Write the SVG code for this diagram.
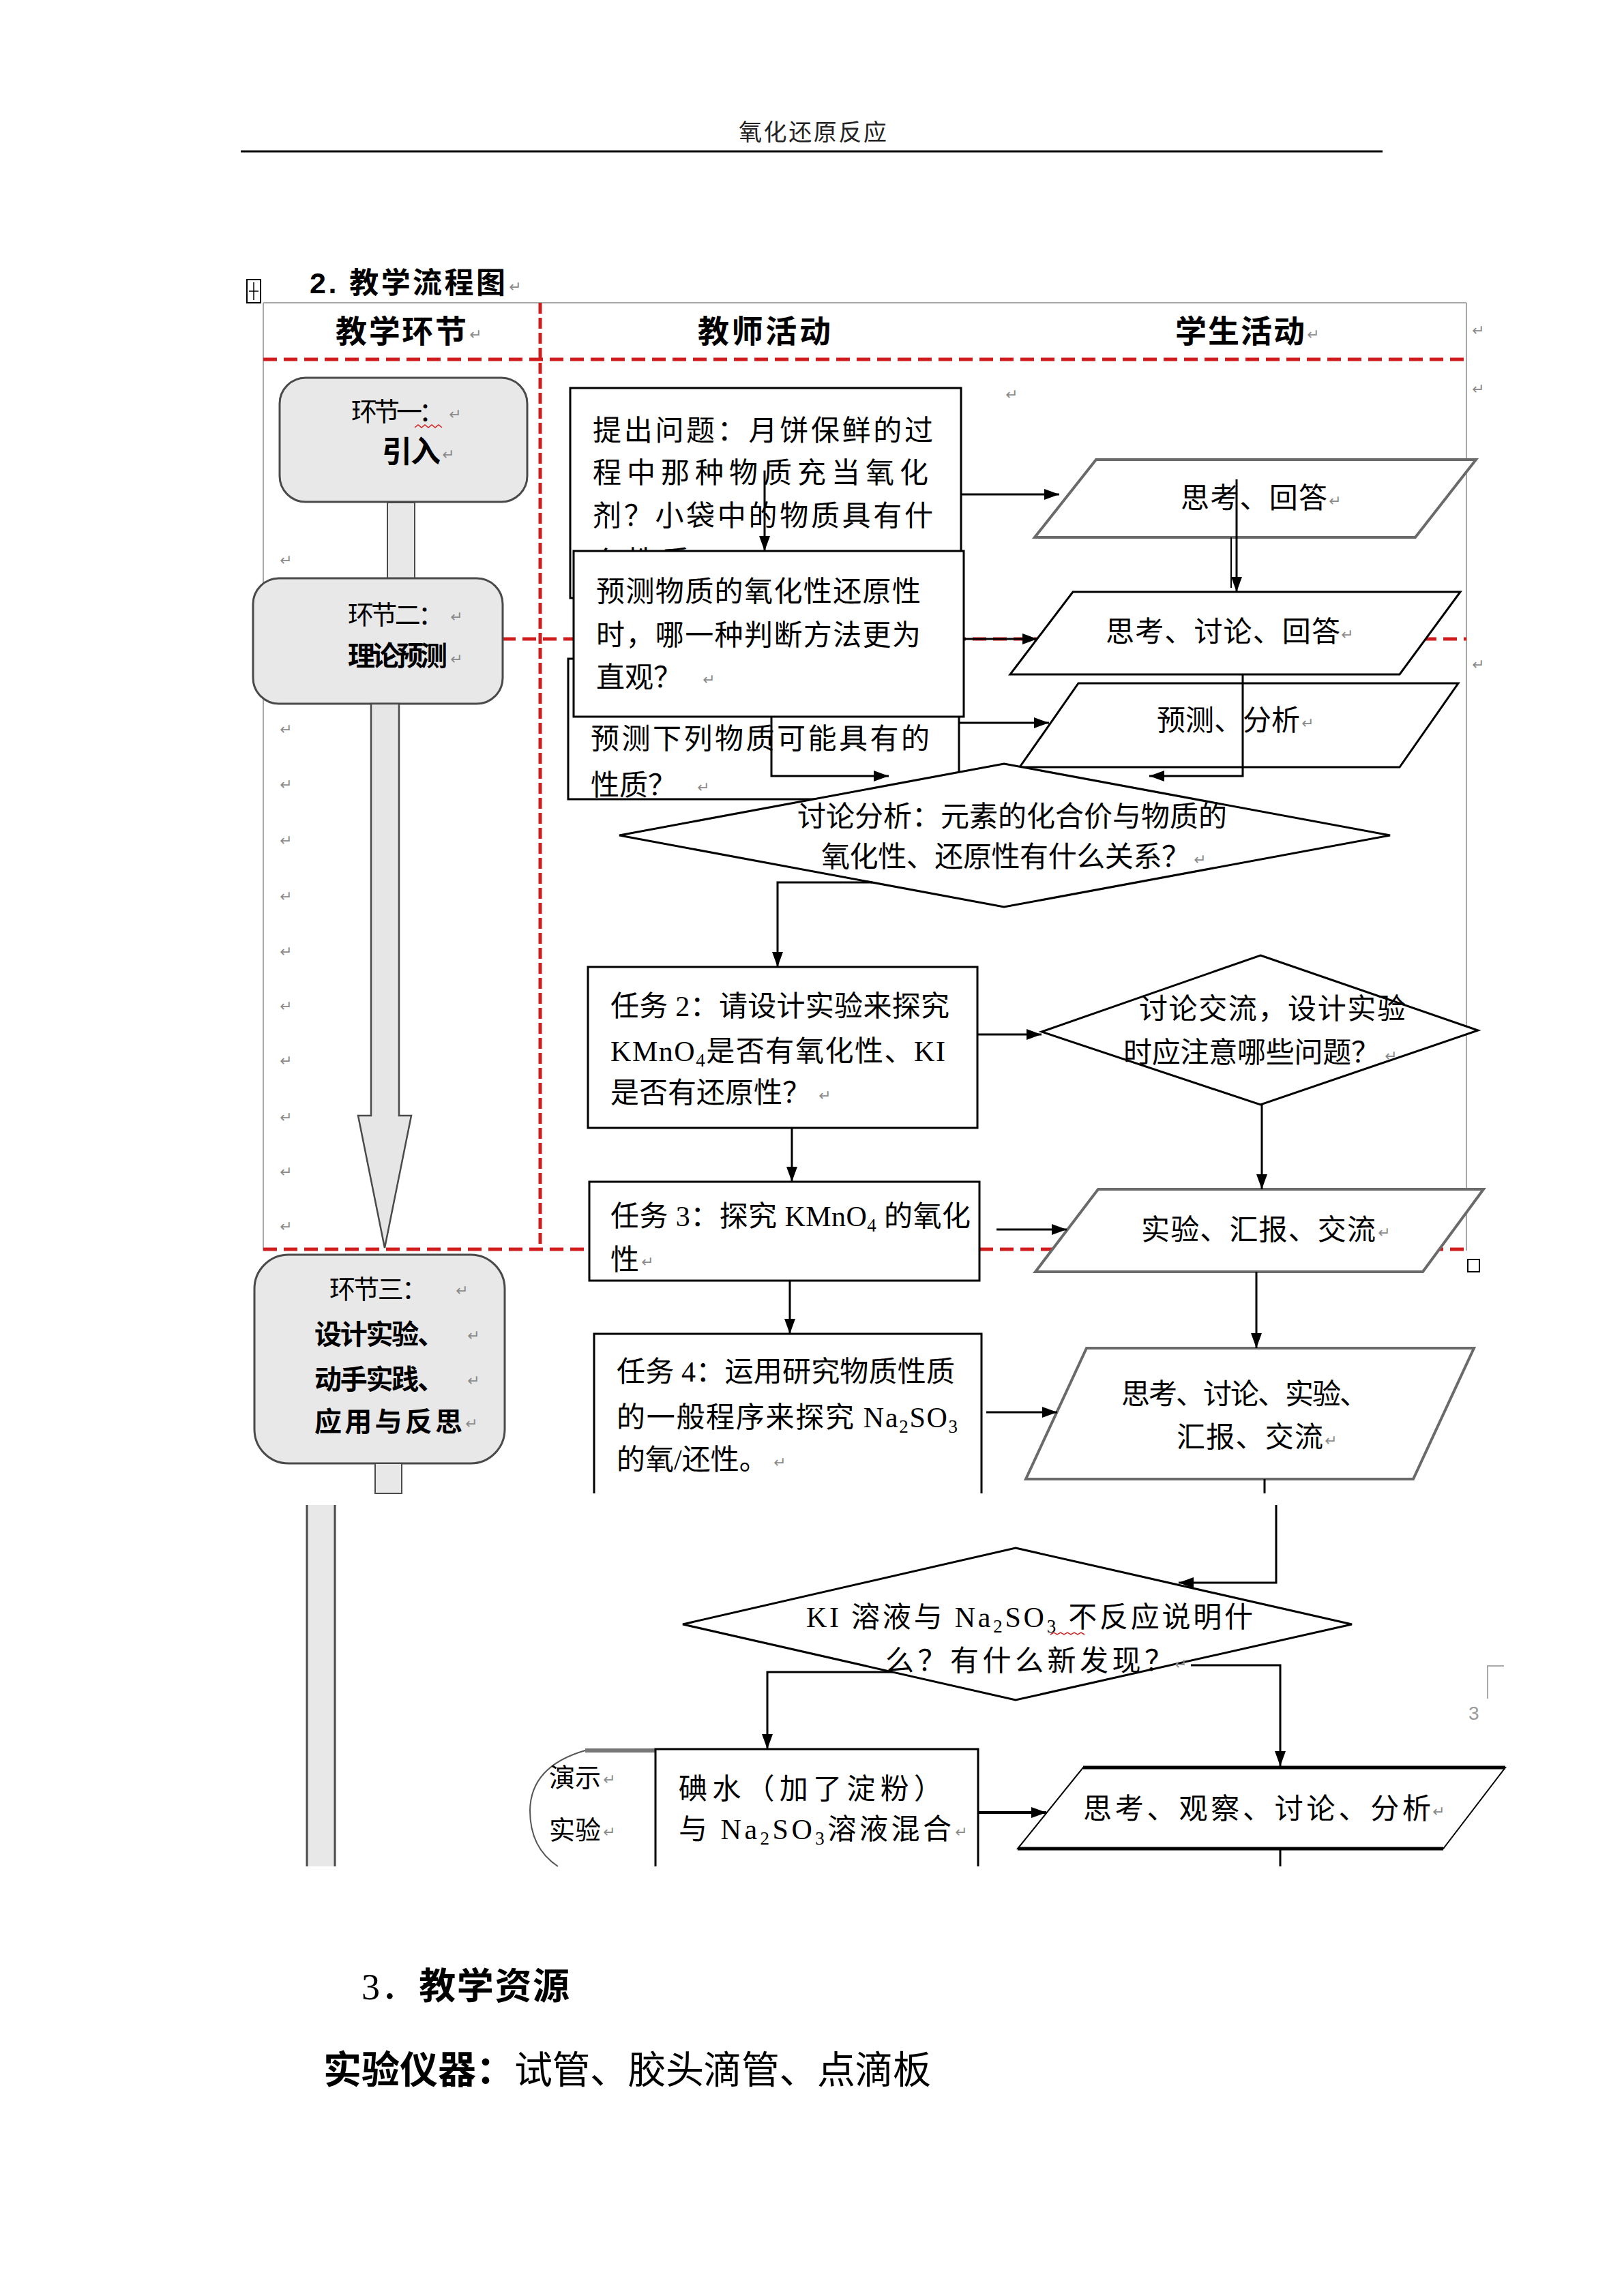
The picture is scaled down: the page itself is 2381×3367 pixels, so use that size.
<svg xmlns="http://www.w3.org/2000/svg" width="2381" height="3367" viewBox="0 0 2381 3367">
<style>
.t{font-family:"Liberation Serif","Noto Sans CJK SC",serif;font-size:42px;fill:#000}
.s{font-size:38px}
.b{font-family:"Liberation Sans","Noto Sans CJK SC",sans-serif;font-weight:bold}
.pm{font-family:"DejaVu Sans",sans-serif;font-size:22px;fill:#8a8a8a}
.box{fill:#fff;stroke:#000;stroke-width:3}
.gbox{fill:#e8e8e8;stroke:#4a4a4a;stroke-width:3}
.para{fill:#fff;stroke:#000;stroke-width:3}
.parag{fill:#fff;stroke:#6a6a6a;stroke-width:4}
.dia{fill:#fff;stroke:#000;stroke-width:3}
.red{stroke:#d01c1c;stroke-width:5;fill:none}
.grid{stroke:#a8a8a8;stroke-width:2;fill:none}
.con{stroke:#000;stroke-width:3;fill:none}
.arr{marker-end:url(#ah)}
</style>
<defs>
<marker id="ah" markerWidth="22" markerHeight="16" refX="22" refY="8" orient="auto" markerUnits="userSpaceOnUse"><path d="M0,0 L22,8 L0,16 Z" fill="#000"/></marker>
</defs>
<rect width="2381" height="3367" fill="#fff"/>

<g id="page">
<text class="t" x="1083" y="206" style="font-size:34px;fill:#222" textLength="217">氧化还原反应</text>
<line x1="353" y1="222" x2="2027" y2="222" stroke="#000" stroke-width="3"/>
<rect x="362" y="410" width="20" height="34" fill="none" stroke="#000" stroke-width="2"/>
<path d="M372 414 V440 M365 427 H379" stroke="#000" stroke-width="1.5"/>
<text class="t b" x="454" y="430" style="font-size:43px" textLength="287">2. 教学流程图</text>
<text class="pm" x="746" y="428">↵</text>
</g>

<g id="table">
<line class="grid" x1="386" y1="444" x2="2150" y2="444"/>
<line class="grid" x1="386" y1="444" x2="386" y2="1834"/>
<line class="grid" x1="2150" y1="444" x2="2150" y2="1834"/>
<line class="red" x1="792" y1="444" x2="792" y2="1831" stroke-dasharray="16 6"/>
<line class="red" x1="386" y1="527" x2="2150" y2="527" stroke-dasharray="20 10"/>
<line class="red" x1="736" y1="937" x2="2150" y2="937" stroke-dasharray="20 10"/>
<line class="red" x1="386" y1="1832" x2="2150" y2="1832" stroke-dasharray="20 10"/>
<rect x="2152" y="1847" width="17" height="18" fill="none" stroke="#000" stroke-width="2"/>
<text class="t b" x="492" y="502" style="font-size:46px" textLength="192">教学环节</text>
<text class="pm" x="688" y="498">↵</text>
<text class="t b" x="1023" y="502" style="font-size:46px" textLength="195">教师活动</text>
<text class="t b" x="1723" y="502" style="font-size:46px" textLength="190">学生活动</text>
<text class="pm" x="1916" y="498">↵</text>
<text class="pm" x="2158" y="492">↵</text>
<text class="pm" x="2158" y="578">↵</text>
<text class="pm" x="2158" y="982">↵</text>
<text class="pm" x="1474" y="586">↵</text>
<text class="pm" x="410" y="829">↵</text>
<text class="pm" x="410" y="1077">↵</text>
<text class="pm" x="410" y="1158">↵</text>
<text class="pm" x="410" y="1240">↵</text>
<text class="pm" x="410" y="1322">↵</text>
<text class="pm" x="410" y="1403">↵</text>
<text class="pm" x="410" y="1483">↵</text>
<text class="pm" x="410" y="1563">↵</text>
<text class="pm" x="410" y="1646">↵</text>
<text class="pm" x="410" y="1726">↵</text>
<text class="pm" x="410" y="1806">↵</text>
</g>

<g id="stage1">
<rect class="gbox" x="410" y="554" width="363" height="182" rx="38"/>
<text class="t s" x="515" y="617" textLength="137">环节一：</text>
<text class="pm" x="658" y="615">↵</text>
<path d="M608 627 l5 -4 l5 4 l5 -4 l5 4 l5 -4 l5 4 l5 -4 l5 4" stroke="#d02020" stroke-width="1.5" fill="none"/>
<text class="t b" x="560" y="678" style="font-size:44px" textLength="86">引入</text>
<text class="pm" x="648" y="674">↵</text>
<rect class="gbox" x="568" y="737" width="40" height="111" style="stroke-width:2"/>
</g>

<g id="stage2">
<rect class="gbox" x="371" y="848" width="366" height="184" rx="38"/>
<text class="t s" x="510" y="915" textLength="141">环节二：</text>
<text class="pm" x="660" y="912">↵</text>
<text class="t b" x="510" y="976" style="font-size:40px" textLength="146">理论预测</text>
<text class="pm" x="660" y="974">↵</text>
<polygon points="544,1032 585,1032 585,1636 603,1636 564,1830 525,1636 544,1636" fill="#e6e6e6" stroke="#4a4a4a" stroke-width="2.5"/>
</g>

<g id="stage3">
<rect class="gbox" x="373" y="1840" width="367" height="306" rx="50"/>
<text class="t s" x="483" y="1904" textLength="144">环节三：</text>
<text class="pm" x="668" y="1900">↵</text>
<text class="t b" x="461" y="1971" style="font-size:40px" textLength="191">设计实验、</text>
<text class="pm" x="685" y="1966">↵</text>
<text class="t b" x="461" y="2037" style="font-size:40px" textLength="191">动手实践、</text>
<text class="pm" x="685" y="2032">↵</text>
<text class="t b" x="461" y="2099" style="font-size:40px" textLength="217">应用与反思</text>
<text class="pm" x="682" y="2095">↵</text>
<rect class="gbox" x="550" y="2146" width="39" height="44" style="stroke-width:2"/>
<rect x="449" y="2207" width="43" height="530" fill="#e8e8e8"/>
<path d="M450 2207 V2737 M491 2207 V2737" stroke="#4a4a4a" stroke-width="3"/>
</g>

<g id="taskA">
<rect class="box" x="836" y="569" width="573" height="308"/>
<text class="t" x="869" y="646" textLength="499">提出问题：月饼保鲜的过</text>
<text class="t" x="869" y="708" textLength="492">程中那种物质充当氧化</text>
<text class="t" x="869" y="771" textLength="499">剂？小袋中的物质具有什</text>
<text class="t" x="869" y="838" textLength="142">么性质</text>
</g>

<g id="taskC">
<rect class="box" x="833" y="966" width="573" height="206"/>
<text class="t" x="866" y="1098" textLength="497">预测下列物质可能具有的</text>
<text class="t" x="866" y="1166">性质？</text>
<text class="pm" x="1022" y="1162">↵</text>
</g>

<g id="taskB">
<rect class="box" x="841" y="808" width="572" height="243"/>
<text class="t" x="874" y="882" textLength="476">预测物质的氧化性还原性</text>
<text class="t" x="874" y="946" textLength="476">时，哪一种判断方法更为</text>
<text class="t" x="874" y="1008">直观？</text>
<text class="pm" x="1030" y="1004">↵</text>
</g>

<g id="stuP1">
<polygon class="parag" points="1607,674 2164,674 2075,788 1517,788"/>
<text class="t" x="1731" y="745" textLength="215">思考、回答</text>
<text class="pm" x="1948" y="742">↵</text>
</g>
<g id="stuP2">
<polygon class="para" points="1573,868 2141,868 2052,989 1481,989"/>
<text class="t" x="1621" y="941" textLength="344">思考、讨论、回答</text>
<text class="pm" x="1966" y="938">↵</text>
</g>
<g id="stuP3">
<polygon class="para" points="1581,1002 2138,1002 2052,1125 1495,1125"/>
<text class="t" x="1696" y="1071" textLength="210">预测、分析</text>
<text class="pm" x="1908" y="1068">↵</text>
</g>

<g id="discuss1">
<polygon class="dia" points="1472,1120 2038,1225 1472,1330 908,1225"/>
<text class="t" x="1169" y="1212" textLength="630">讨论分析：元素的化合价与物质的</text>
<text class="t" x="1204" y="1271" textLength="541">氧化性、还原性有什么关系？</text>
<text class="pm" x="1750" y="1268">↵</text>
</g>

<g id="task2">
<rect class="box" x="862" y="1418" width="571" height="236"/>
<text class="t" x="895" y="1490" textLength="497">任务 2：请设计实验来探究</text>
<text class="t" x="895" y="1556" textLength="491">KMnO<tspan font-size="27" dy="8">4</tspan><tspan dy="-8">是否有氧化性、KI</tspan></text>
<text class="t" x="895" y="1617">是否有还原性？</text>
<text class="pm" x="1200" y="1614">↵</text>
</g>

<g id="discuss2">
<polygon class="dia" points="1848,1401 2167,1511 1848,1620 1527,1513"/>
<text class="t" x="1670" y="1494" textLength="391">讨论交流，设计实验</text>
<text class="t" x="1647" y="1558" textLength="376">时应注意哪些问题？</text>
<text class="pm" x="2030" y="1556">↵</text>
</g>

<g id="task3">
<rect class="box" x="864" y="1733" width="572" height="145"/>
<text class="t" x="895" y="1798" textLength="528">任务 3：探究 KMnO<tspan font-size="27" dy="8">4</tspan><tspan dy="-8"> 的氧化</tspan></text>
<text class="t" x="895" y="1862">性</text>
<text class="pm" x="940" y="1858">↵</text>
</g>

<g id="stuP4">
<polygon class="parag" points="1610,1744 2175,1744 2086,1865 1518,1865"/>
<text class="t" x="1673" y="1818" textLength="344">实验、汇报、交流</text>
<text class="pm" x="2020" y="1815">↵</text>
</g>

<g id="task4">
<path class="box" d="M871 2190 V1956 H1439 V2190"/>
<text class="t" x="904" y="2026" textLength="496">任务 4：运用研究物质性质</text>
<text class="t" x="904" y="2093" textLength="500">的一般程序来探究 Na<tspan font-size="27" dy="8">2</tspan><tspan dy="-8">SO</tspan><tspan font-size="27" dy="8">3</tspan></text>
<text class="t" x="904" y="2155">的氧/还性。</text>
<text class="pm" x="1134" y="2152">↵</text>
</g>

<g id="stuP5">
<polygon class="parag" points="1593,1977 2161,1977 2072,2169 1504,2169"/>
<text class="t" x="1644" y="2059" textLength="362">思考、讨论、实验、</text>
<text class="t" x="1725" y="2122" textLength="215">汇报、交流</text>
<text class="pm" x="1942" y="2120">↵</text>
</g>

<g id="question3">
<polygon class="dia" points="1489,2270 1982,2382 1489,2493 1001,2382"/>
<text class="t" x="1182" y="2386" textLength="655">KI 溶液与 Na<tspan font-size="27" dy="8">2</tspan><tspan dy="-8">SO</tspan><tspan font-size="27" dy="8">3</tspan><tspan dy="-8"> 不反应说明什</tspan></text>
<path d="M1540 2397 l5 -3 l5 3 l5 -3 l5 3 l5 -3 l5 3 l5 -3 l5 3 l5 -3 l5 3" stroke="#d02020" stroke-width="1.5" fill="none"/>
<text class="t" x="1298" y="2450" textLength="422">么？有什么新发现？</text>
<text class="pm" x="1722" y="2448">↵</text>
</g>

<g id="demo">
<path d="M961 2567 L858 2567 Q778 2590 777 2655 Q777 2710 818 2737" fill="none" stroke="#555" stroke-width="2"/>
<line x1="858" y1="2567" x2="961" y2="2567" stroke="#777" stroke-width="6"/>
<text class="t s" x="805" y="2620">演示</text>
<text class="pm" x="884" y="2617">↵</text>
<text class="t s" x="805" y="2697">实验</text>
<text class="pm" x="884" y="2694">↵</text>
</g>

<g id="mixE">
<path class="box" d="M961 2737 V2565 H1434 V2737"/>
<text class="t" x="995" y="2638" textLength="387">碘水（加了淀粉）</text>
<text class="t" x="995" y="2697" textLength="400">与 Na<tspan font-size="27" dy="8">2</tspan><tspan dy="-8">SO</tspan><tspan font-size="27" dy="8">3</tspan><tspan dy="-8">溶液混合</tspan></text>
<text class="pm" x="1400" y="2694">↵</text>
</g>

<g id="stuP6">
<polygon class="para" points="1588,2592 2207,2592 2116,2711 1492,2711" style="stroke-width:2"/>
<path d="M1588 2592 H2207 M1492 2711 H2116" stroke="#000" stroke-width="5"/>
<text class="t" x="1588" y="2667" textLength="510">思考、观察、讨论、分析</text>
<text class="pm" x="2100" y="2664">↵</text>
</g>

<g id="pagemark">
<path d="M2181 2491 V2443 H2205" stroke="#aaa" stroke-width="2" fill="none"/>
<text x="2153" y="2522" font-family="Liberation Sans, sans-serif" font-size="28" fill="#999">3</text>
</g>

<g id="connectors">
<path class="con arr" d="M1121 690 V808"/>
<path class="con arr" d="M1409 725 H1553"/>
<path class="con arr" d="M1413 937 H1521"/>
<path class="con arr" d="M1406 1060 H1538"/>
<path class="con arr" d="M1813 703 V868"/>
<path class="con" d="M1805 788 V862" style="stroke-width:2"/>
<path class="con arr" d="M1822 989 V1138 H1685"/>
<path class="con arr" d="M1131 1051 V1138 H1303"/>
<path class="con arr" d="M1279 1294 H1140 V1418"/>
<path class="con arr" d="M1433 1517 H1527"/>
<path class="con arr" d="M1850 1620 V1744"/>
<path class="con arr" d="M1161 1654 V1733"/>
<path class="con arr" d="M1461 1803 H1564"/>
<path class="con arr" d="M1158 1878 V1956"/>
<path class="con arr" d="M1446 2071 H1550"/>
<path class="con arr" d="M1842 1865 V1977"/>
<path class="con" d="M1854 2169 V2190"/>
<path class="con arr" d="M1871 2207 V2321 H1728"/>
<path class="con arr" d="M1309 2452 H1125 V2565"/>
<path class="con arr" d="M1746 2442 H1877 V2590"/>
<path class="con arr" d="M1434 2658 H1534" style="stroke-width:4"/>
<path class="con" d="M1877 2711 V2737"/>
</g>

<g id="resources">
<text class="t" x="530" y="2932" style="font-size:54px" textLength="305"><tspan>3．</tspan><tspan class="b">教学资源</tspan></text>
<text class="t b" x="474" y="3055" style="font-size:56px" textLength="280">实验仪器：</text>
<text class="t" x="754" y="3055" style="font-size:56px" textLength="611">试管、胶头滴管、点滴板</text>
</g>
</svg>
